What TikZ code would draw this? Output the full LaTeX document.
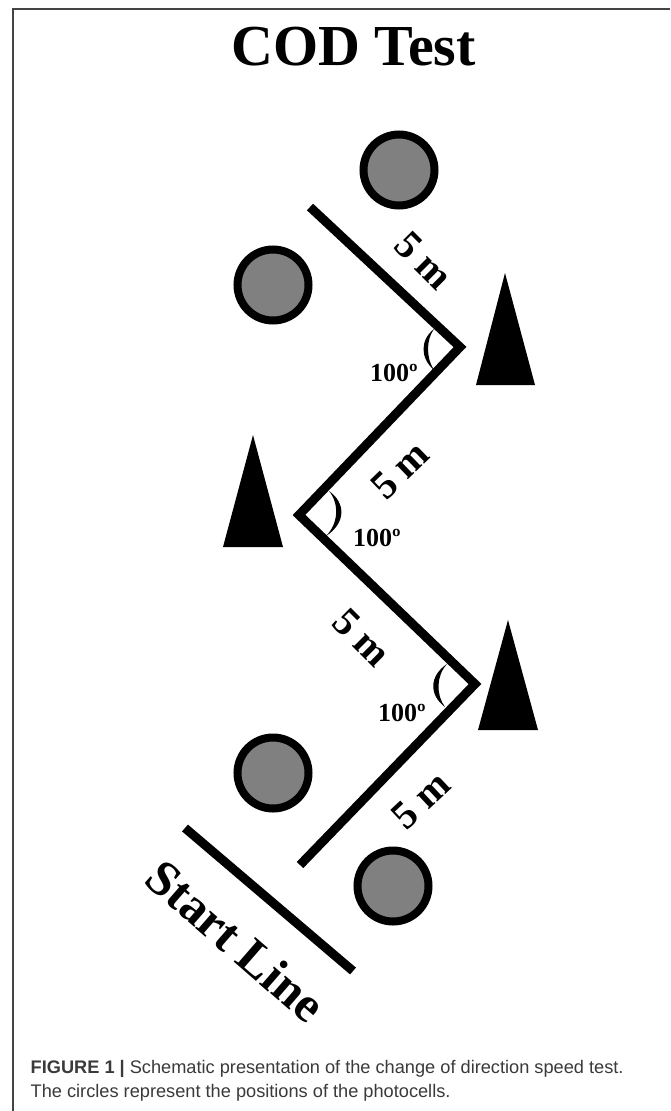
\documentclass[tikz,border=0pt]{standalone}
\usepackage{fontspec}
\setmainfont{Liberation Serif}
\newfontfamily\capfont{Liberation Sans}
\tikzset{
  x=1pt,y=-1pt,
  cell/.style={circle,draw=black,line width=8pt,fill=cellgray,minimum size=71pt,inner sep=0pt},
  course/.style={line width=9pt,draw=black,miter limit=10},
  cone/.style={fill=black},
  bow/.style={fill=black},
  dist/.style={font=\bfseries\fontsize{40}{40}\selectfont,inner sep=0pt,anchor=center},
  ang/.style={font=\bfseries\fontsize{26}{26}\selectfont,inner sep=0pt,anchor=center},
  captext/.style={font=\capfont\fontsize{18.2}{24}\selectfont,inner sep=0pt,anchor=base west,text=capcolor},
}
\definecolor{cellgray}{HTML}{808080}
\definecolor{capcolor}{HTML}{3A3A3A}
\definecolor{frame}{HTML}{444444}
\begin{document}
\begin{tikzpicture}
\useasboundingbox (0,0) rectangle (670,1111);
\fill[white] (0,0) rectangle (670,1111);
\draw[frame,line width=1.2pt] (13,1111) -- (13,9) -- (670,9);

\node[inner sep=0pt,anchor=base,font=\bfseries\fontsize{58}{58}\selectfont] (title) at (353.5,65) {COD Test};

\node[cell] (c1) at (399,170) {};
\node[cell] (c2) at (273,285) {};
\node[cell] (c3) at (273,773) {};
\node[cell] (c4) at (393,886) {};

\coordinate (p0) at (310,207);
\coordinate (p1) at (460,347);
\coordinate (p2) at (299,515);
\coordinate (p3) at (475,684);
\coordinate (p4) at (300,865);
\draw[course] (p0) -- (p1) -- (p2) -- (p3) -- (p4);

\coordinate (s0) at (185,828);
\coordinate (s1) at (353,971);
\draw[course] (s0) -- (s1);

\fill[cone] (505,273) -- (535,385) -- (476,385) -- cycle;
\fill[cone] (253,435) -- (283,547) -- (223,547) -- cycle;
\fill[cone] (508,620) -- (538,730) -- (478,730) -- cycle;

\fill[bow] (434,329) .. controls (420,340) and (420,358) .. (434,370) .. controls (426,358) and (426,340) .. (434,329) -- cycle;
\fill[bow] (329,491) .. controls (346,503) and (346,523) .. (326,536) .. controls (339,523) and (339,503) .. (329,491) -- cycle;
\fill[bow] (447,664) .. controls (429,676) and (429,695) .. (445,707) .. controls (436,695) and (436,676) .. (447,664) -- cycle;

\node[dist,rotate=-45] (d1) at (424,261) {5 m};
\node[dist,rotate=44] (d2) at (400,470) {5 m};
\node[dist,rotate=-45] (d3) at (362,638) {5 m};
\node[dist,rotate=43] (d4) at (421,800) {5 m};

\node[ang] (a1) at (394,373) {100º};
\node[ang] (a2) at (377,538) {100º};
\node[ang] (a3) at (402,713) {100º};

\node[inner sep=0pt,rotate=-41,font=\bfseries\fontsize{50}{50}\selectfont] (start) at (236,941) {Start Line};

\node[captext] (cap1) at (30.5,1073) {\textbf{FIGURE 1 |} Schematic presentation of the change of direction speed test.};
\node[captext] (cap2) at (30.5,1097) {The circles represent the positions of the photocells.};
\end{tikzpicture}
\end{document}
